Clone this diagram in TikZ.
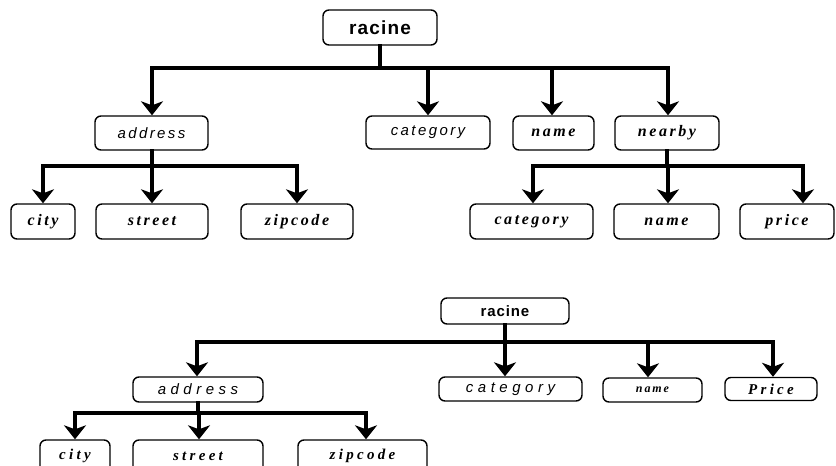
\documentclass[tikz,border=0pt]{standalone}
\usepackage{fontspec}
\usetikzlibrary{arrows.meta}
\newfontfamily\rsans[LetterSpace=6]{Liberation Sans}
\newfontfamily\lsans[LetterSpace=16]{Liberation Sans}
\newfontfamily\lsanswide[LetterSpace=30]{Liberation Sans}
\newfontfamily\lserif[LetterSpace=16]{Liberation Serif}
\newfontfamily\lserifwide[LetterSpace=22]{Liberation Serif}
\tikzset{
  box/.style={draw, line width=1.4pt, rounded corners=6pt, inner sep=0pt, fill=white},
  rac/.style={box, font=\rsans\bfseries\fontsize{19}{19}\selectfont},
  racb/.style={box, font=\rsans\bfseries\fontsize{15}{15}\selectfont},
  isans/.style={box, font=\lsans\itshape\fontsize{15}{15}\selectfont},
  isansb/.style={box, font=\lsanswide\itshape\fontsize{15}{15}\selectfont},
  iserif/.style={box, font=\lserif\bfseries\itshape\fontsize{16}{16}\selectfont},
  iserifb/.style={box, font=\lserifwide\bfseries\itshape\fontsize{15}{15}\selectfont},
  iserifs/.style={box, font=\lserif\bfseries\itshape\fontsize{12}{12}\selectfont},
  link/.style={line width=4pt, line cap=rect},
  arr/.style={line width=4pt, -{Stealth[width=22pt,length=14pt,inset=4pt]}},
}
\begin{document}
\begin{tikzpicture}[x=1pt,y=-1pt]
\useasboundingbox (0,0) rectangle (836,466);
\fill[white] (0,0) rectangle (836,466);
\clip (0,0) rectangle (836,466);
% ---------- top tree ----------
\node[rac, minimum width=114pt, minimum height=35pt] (r1) at (380,27.5) {racine};
\node[isans, minimum width=113pt, minimum height=34pt] (addr1) at (151.5,133) {address};
\node[isans, minimum width=124pt, minimum height=33pt] (cat1) at (428,132.5) {category};
\node[iserif, minimum width=81pt, minimum height=34pt] (name1) at (553.5,133) {name};
\node[iserif, minimum width=104pt, minimum height=34pt] (near1) at (667,133) {nearby};
\node[iserif, minimum width=64pt, minimum height=35pt] (city1) at (43,221.5) {city};
\node[iserif, minimum width=112pt, minimum height=35pt] (street1) at (152,221.5) {street};
\node[iserif, minimum width=112pt, minimum height=35pt] (zip1) at (297,221.5) {zipcode};
\node[iserif, minimum width=123pt, minimum height=35pt] (cat2) at (531.5,221.5) {category};
\node[iserif, minimum width=105pt, minimum height=35pt] (name2) at (666.5,221.5) {name};
\node[iserif, minimum width=94pt, minimum height=35pt] (price1) at (787,221.5) {price};

\coordinate (a1) at (152,68);
\coordinate (a2) at (428,68);
\coordinate (a3) at (552,68);
\coordinate (a4) at (668,68);
\draw[link] (r1.south) -- (r1 |- a1);
\draw[link] (a1) -- (a4);
\draw[arr] (a1) -- (a1 |- addr1.north);
\draw[arr] (a2) -- (a2 |- cat1.north);
\draw[arr] (a3) -- (a3 |- name1.north);
\draw[arr] (a4) -- (a4 |- near1.north);

\coordinate (b1) at (43,166);
\coordinate (b2) at (152,166);
\coordinate (b3) at (297,166);
\draw[link] (addr1.south) -- (addr1 |- b1);
\draw[link] (b1) -- (b3);
\draw[arr] (b1) -- (b1 |- city1.north);
\draw[arr] (b2) -- (b2 |- street1.north);
\draw[arr] (b3) -- (b3 |- zip1.north);

\coordinate (c1) at (533,166);
\coordinate (c2) at (668,166);
\coordinate (c3) at (803,166);
\draw[link] (near1.south) -- (near1 |- c1);
\draw[link] (c1) -- (c3);
\draw[arr] (c1) -- (c1 |- cat2.north);
\draw[arr] (c2) -- (c2 |- name2.north);
\draw[arr] (c3) -- (c3 |- price1.north);

% ---------- bottom tree ----------
\node[racb, minimum width=128pt, minimum height=26pt] (r2) at (505,311) {racine};
\node[isansb, minimum width=130pt, minimum height=25pt] (addr2) at (198,389.5) {address};
\node[isansb, minimum width=143pt, minimum height=24pt] (cat3) at (510.5,389) {category};
\node[iserifs, minimum width=99pt, minimum height=24pt] (name3) at (652.5,390) {name};
\node[iserifb, minimum width=92pt, minimum height=23pt] (price2) at (771,389) {Price};
\node[iserifb, minimum width=70pt, minimum height=32pt] (city3) at (75,456) {city};
\node[iserifb, minimum width=130pt, minimum height=32pt] (street3) at (198,456) {street};
\node[iserifb, minimum width=129pt, minimum height=32pt] (zip3) at (362.5,456) {zipcode};

\coordinate (d1) at (197,342);
\coordinate (d2) at (505,342);
\coordinate (d3) at (648,342);
\coordinate (d4) at (773,342);
\draw[link] (r2.south) -- (r2 |- d1);
\draw[link] (d1) -- (d4);
\draw[arr] (d1) -- (d1 |- addr2.north);
\draw[arr] (d2) -- (d2 |- cat3.north);
\draw[arr] (d3) -- (d3 |- name3.north);
\draw[arr] (d4) -- (d4 |- price2.north);

\coordinate (e1) at (75,413);
\coordinate (e2) at (199,413);
\coordinate (e3) at (366,413);
\draw[link] (addr2.south) -- (addr2 |- e1);
\draw[link] (e1) -- (e3);
\draw[arr] (e1) -- (e1 |- city3.north);
\draw[arr] (e2) -- (e2 |- street3.north);
\draw[arr] (e3) -- (e3 |- zip3.north);
\end{tikzpicture}
\end{document}
